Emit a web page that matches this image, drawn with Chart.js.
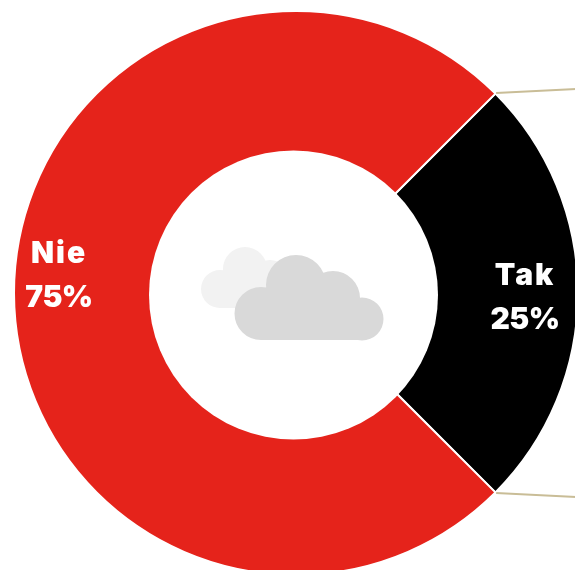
<!DOCTYPE html>
<html><head><meta charset="utf-8">
<style>html,body{margin:0;padding:0;width:575px;height:570px;overflow:hidden;background:#fff}
#w{position:absolute;left:13px;top:10px;width:566px;height:566px}</style>
<script src="https://cdn.jsdelivr.net/npm/chart.js@4"></script></head>
<body><div id="w"><canvas id="c" width="566" height="566"></canvas></div>
<script>
const categories=["Tak","Nie"];
const values=[25,75];
const sliceColors=["#000000","#e5231b"];
const percentLabels=["25%","75%"];
const labelOffsets=[[229,5],[-237,-17]];
const leaderTail=[80,4];
const holeShift=[-2.5,2];
const holeRadius=144.5;
const cloudBack=[[-76,-4,19],[-51,-24,22],[-26,-13,20]];
const cloudFront=[[-35,20.5,26.5],[0,-8,30],[37,5,27],[66,26,21.5]];
function lobes(ctx,cx,cy,list,color,bottomY,x0,x1,topY){
  ctx.fillStyle=color;ctx.beginPath();
  list.forEach(l=>{ctx.moveTo(cx+l[0]+l[2],cy+l[1]);ctx.arc(cx+l[0],cy+l[1],l[2],0,Math.PI*2);});
  ctx.rect(cx+x0,cy+topY,x1-x0,bottomY-topY);ctx.fill();
}
const decor={id:"decor",afterDraw(chart){
  const ctx=chart.ctx,arcs=chart.getDatasetMeta(0).data;
  const cx=arcs[0].x,cy=arcs[0].y,R=arcs[0].outerRadius;
  ctx.save();
  ctx.fillStyle="#fff";ctx.beginPath();ctx.arc(cx+holeShift[0],cy+holeShift[1],holeRadius,0,Math.PI*2);ctx.fill();
  lobes(ctx,cx,cy,cloudBack,"#f2f2f2",15,-76,-26,-8);
  lobes(ctx,cx,cy,cloudFront,"#d9d9d9",47,-35,66,7);
  ctx.strokeStyle="#c9bd97";ctx.lineWidth=2;
  [arcs[0].startAngle,arcs[0].endAngle].forEach((a,i)=>{
    const x=cx+Math.cos(a)*(R+1),y=cy+Math.sin(a)*(R+1);
    ctx.beginPath();ctx.moveTo(x,y);ctx.lineTo(x+leaderTail[0],y+(i?1:-1)*leaderTail[1]);ctx.stroke();
  });
  ctx.fillStyle="#fff";ctx.textAlign="center";ctx.textBaseline="middle";
  ctx.font="900 30px Inter";
  categories.forEach((n,i)=>{
    const x=cx+labelOffsets[i][0],y=cy+labelOffsets[i][1];
    ctx.letterSpacing="2px";ctx.fillText(n,x,y-22);
    ctx.letterSpacing="-0.5px";ctx.fillText(percentLabels[i],x,y+22);
  });
  ctx.restore();
}};
new Chart(document.getElementById("c"),{type:"doughnut",
 data:{labels:categories,datasets:[{data:values,backgroundColor:sliceColors,borderColor:"#ffffff",borderWidth:2}]},
 options:{responsive:false,animation:false,rotation:45,cutout:"49%",layout:{padding:0},
  plugins:{legend:{display:false},tooltip:{enabled:false}}},
 plugins:[decor]});
</script></body></html>
